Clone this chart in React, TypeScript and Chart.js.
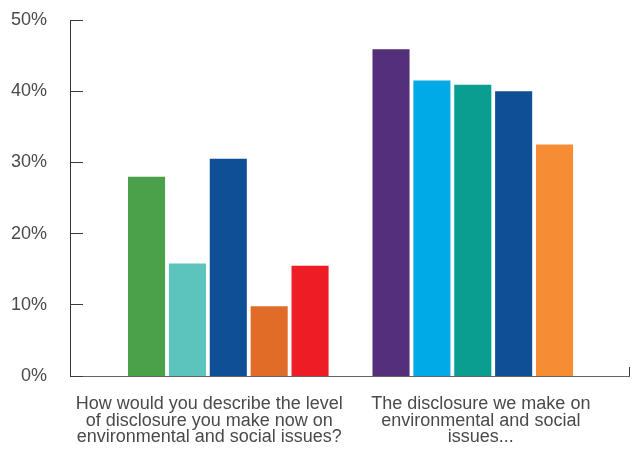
import React, { useEffect, useRef } from "react";
import { Chart, registerables } from "chart.js";

Chart.register(...registerables);

// Question groups along the x axis
const groupLabels: string[][] = [
  ["How would you describe the level", "of disclosure you make now on", "environmental and social issues?"],
  ["The disclosure we make on", "environmental and social", "issues..."],
];

// Bar values (%) per group, in drawing order
const firstGroupValues = [28.0, 15.8, 30.5, 9.8, 15.5];
const secondGroupValues = [45.9, 41.5, 40.9, 40.0, 32.5];

// Bar colours per group
const firstGroupColors = ["#4aa14a", "#5cc4bd", "#0f4f96", "#e06c28", "#ee1c25"];
const secondGroupColors = ["#55307a", "#00aae6", "#0a9e91", "#0f4f96", "#f68c33"];

// Axis values
const groupPositions = [0, 1];
const yTicks = [0, 10, 20, 30, 40, 50];

const FONT = "'Liberation Sans', Arial, sans-serif";

const innerTicks = {
  id: "innerTicks",
  afterDatasetsDraw(chart: any) {
    const { ctx, chartArea } = chart;
    const yScale = chart.scales.y;
    ctx.save();
    ctx.strokeStyle = "#3a3a3a";
    ctx.lineWidth = 1;
    ctx.beginPath();
    yScale.ticks.forEach((t: any) => {
      const py = Math.floor(yScale.getPixelForValue(t.value)) + 0.5;
      ctx.moveTo(chartArea.left, py);
      ctx.lineTo(chartArea.left + 13, py);
    });
    const rx = Math.floor(chartArea.right) + 0.5;
    ctx.moveTo(rx, chartArea.bottom);
    ctx.lineTo(rx, chartArea.bottom - 9);
    ctx.stroke();
    ctx.restore();
  },
};

export default function App() {
  const canvasRef = useRef<HTMLCanvasElement | null>(null);

  useEffect(() => {
    if (!canvasRef.current) return;
    const datasets = firstGroupValues.map((v, i) => ({
      label: `Series ${i + 1}`,
      data: [
        { x: groupPositions[0], y: v },
        { x: groupPositions[1], y: secondGroupValues[i] },
      ],
      backgroundColor: [firstGroupColors[i], secondGroupColors[i]],
      borderWidth: 0,
      categoryPercentage: 0.836,
      barPercentage: 0.907,
    }));

    const labelAnchors = [-0.078, 1.033];

    const chart = new Chart(canvasRef.current, {
      type: "bar",
      data: { datasets },
      plugins: [innerTicks],
      options: {
        animation: false,
        responsive: false,
        layout: { padding: { top: 20, right: 6, bottom: 0, left: 0 } },
        plugins: {
          legend: { display: false },
          tooltip: { enabled: false },
        },
        scales: {
          x: {
            type: "linear",
            offset: false,
            min: -0.6475,
            max: 1.639,
            z: 1,
            grid: { display: false, drawTicks: false, offset: false },
            border: { display: true, color: "#666", width: 1 },
            afterBuildTicks: (scale: any) => {
              scale.ticks = labelAnchors.map((value) => ({ value }));
            },
            afterFit: (scale: any) => {
              scale.height = 74;
              scale.paddingLeft = 0;
              scale.paddingRight = 0;
            },
            ticks: {
              autoSkip: false,
              maxRotation: 0,
              minRotation: 0,
              padding: 20,
              color: "#4a4a4a",
              font: { family: FONT, size: 18, lineHeight: 0.92 },
              callback: (_v: any, index: number) => groupLabels[index],
            },
          },
          y: {
            min: yTicks[0],
            max: yTicks[yTicks.length - 1],
            grid: { display: false, drawTicks: false },
            border: { display: true, color: "#333", width: 1 },
            afterBuildTicks: (scale: any) => {
              scale.ticks = yTicks.map((value) => ({ value }));
            },
            afterFit: (scale: any) => {
              scale.width = 70;
              scale.paddingTop = 0;
              scale.paddingBottom = 0;
            },
            ticks: {
              padding: 23,
              color: "#4a4a4a",
              font: { family: FONT, size: 18 },
              callback: (v: any) => `${v}%`,
            },
          },
        },
      },
    });
    return () => chart.destroy();
  }, []);

  return (
    <div style={{ position: "absolute", left: 0, top: 0, width: 635, height: 450, background: "#fff" }}>
      <canvas ref={canvasRef} width={635} height={450} style={{ display: "block" }} />
    </div>
  );
}
